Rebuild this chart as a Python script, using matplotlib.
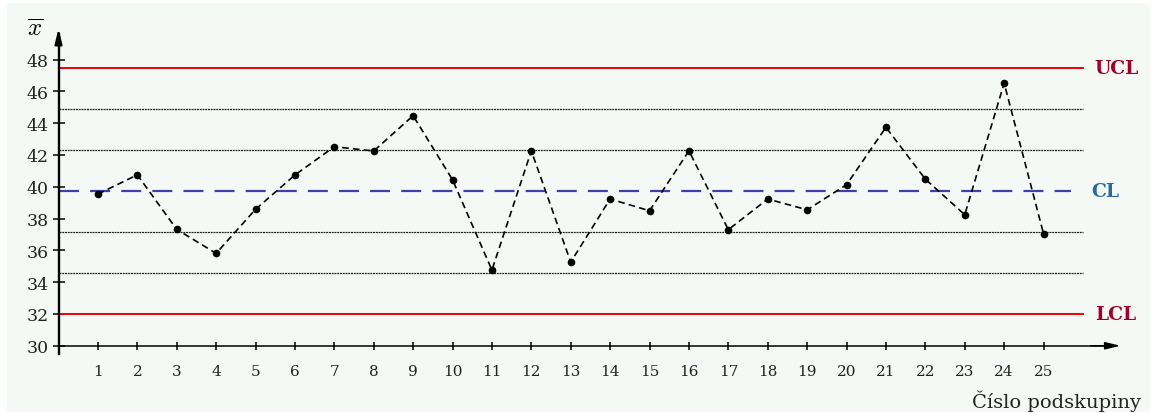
import numpy as np
import matplotlib.pyplot as plt
from matplotlib.patches import Rectangle

plt.rcParams['font.family'] = 'DejaVu Serif'
plt.rcParams['mathtext.fontset'] = 'cm'

# průměry podskupin
subgroups = np.arange(1, 26)
means = [39.54, 40.75, 37.32, 35.81, 38.58, 40.74, 42.52, 42.25, 44.47, 40.44,
         34.76, 42.26, 35.26, 39.23, 38.49, 42.26, 37.30, 39.23, 38.55, 40.13,
         43.74, 40.48, 38.24, 46.52, 37.04]

UCL = 47.5
CL = 39.75
LCL = 32.0
sigma = (UCL - CL) / 3
zones = [CL - 2 * sigma, CL - sigma, CL + sigma, CL + 2 * sigma]

yticks = list(range(30, 50, 2))

W, H = 1159, 414
fig = plt.figure(figsize=(W / 100, H / 100), dpi=100, facecolor='white')
fig.patches.append(Rectangle((7 / W, 1 / H), (1150 - 7) / W, (410 - 1) / H,
                             transform=fig.transFigure, facecolor='#f5f9f6',
                             edgecolor='none', zorder=-10))

ax = fig.add_axes([0, 0, 1, 1])
ax.set_zorder(1)
ax.patch.set_visible(False)
ax.set_xlim(-1.485, 27.93)
ax.set_ylim(25.77, 51.81)

# osy
for s in ['top', 'right']:
    ax.spines[s].set_visible(False)
ax.spines['left'].set_position(('data', 0))
ax.spines['bottom'].set_position(('data', 30))
ax.spines['left'].set_bounds(29.48, 49.6)
ax.spines['bottom'].set_bounds(0, 26.7)
ax.spines['left'].set_linewidth(1.7)
ax.spines['bottom'].set_linewidth(1.1)

ax.annotate('', xy=(0, 49.95), xytext=(0, 48.9),
            arrowprops=dict(arrowstyle='-|>,head_length=0.9,head_width=0.22',
                            color='black', lw=1.5, shrinkA=0, shrinkB=0))
ax.annotate('', xy=(26.95, 30), xytext=(26.2, 30),
            arrowprops=dict(arrowstyle='-|>,head_length=0.9,head_width=0.22',
                            color='black', lw=1.1, shrinkA=0, shrinkB=0))

ax.set_xticks(subgroups)
ax.set_yticks(yticks)
ax.tick_params(axis='x', direction='inout', length=6, width=1.1, pad=10,
               labelsize=11, colors='black', labelcolor='#222222')
ax.tick_params(axis='y', direction='inout', length=8, width=1.1, pad=3,
               labelsize=12.5, colors='black', labelcolor='#222222')

# regulační meze
ax.plot([0, 26], [UCL, UCL], color='#e01010', lw=1.5, zorder=2)
ax.plot([0, 26], [LCL, LCL], color='#e01010', lw=1.5, zorder=2)
ax.plot([0, 25.7], [CL, CL], color='#4040a8', lw=1.6, dashes=(9, 5), zorder=2)
for z in zones:
    ax.plot([0, 26], [z, z], color='#222222', lw=0.9, dashes=(1.6, 0.6), zorder=2)

# data
ax.plot(subgroups, means, color='black', lw=1.2, dashes=(4, 2.5),
        marker='o', markersize=4.5, zorder=3)

ax.text(26.3, UCL, 'UCL', color='#a00028', fontsize=13.5, fontweight='bold',
        va='center', ha='left')
ax.text(26.2, CL, 'CL', color='#2c6a9c', fontsize=13.5, fontweight='bold',
        va='center', ha='left')
ax.text(26.3, LCL, 'LCL', color='#a00028', fontsize=13.5, fontweight='bold',
        va='center', ha='left')

ax.text(-0.6, 50.0, r'$\overline{x}$', fontsize=18, ha='center', va='center')
ax.text(27.47, 26.58, 'Číslo podskupiny', fontsize=14, ha='right', va='center',
        color='#222222')

fig.savefig('out.png', dpi=100, facecolor='white')
